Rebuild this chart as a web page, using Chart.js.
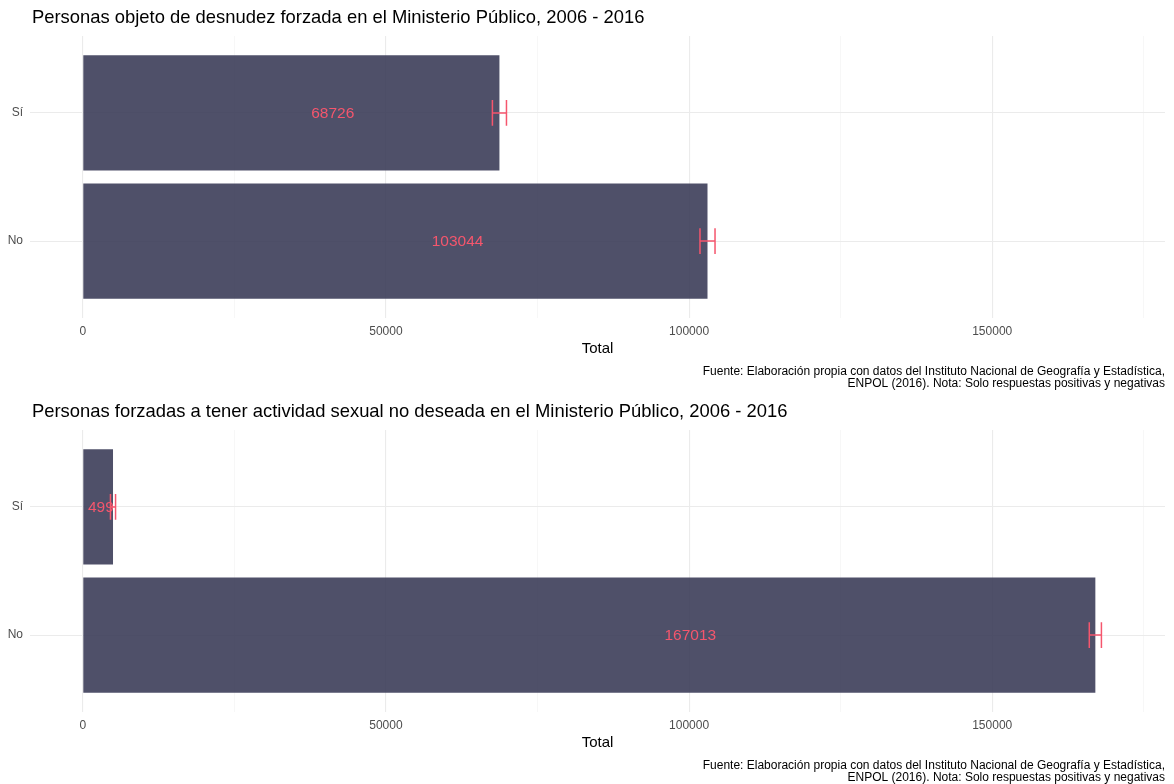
<!DOCTYPE html>
<html>
<head>
<meta charset="utf-8">
<title>Ministerio Público, 2006 - 2016</title>
<script src="https://cdn.jsdelivr.net/npm/chart.js"></script>
<style>
  html, body { margin: 0; padding: 0; background: #fff; overflow: hidden; }
  canvas { display: block; }
</style>
</head>
<body>
<canvas id="chart1" width="1174" height="394"></canvas>
<canvas id="chart2" width="1174" height="394"></canvas>
<script>
// categories (bottom to top) and values
const categories = ['No', 'Sí'];
const desnudezValues = [103044, 68726];
const desnudezErr = [1240, 1160];
const desnudezLabels = ['103044', '68726'];
const actividadValues = [167013, 4991];
const actividadErr = [1000, 420];
const actividadLabels = ['167013', '499'];
const xTicks = [0, 25000, 50000, 75000, 100000, 125000, 150000, 175000];
const xMin = -8700, xMax = 178500;

const titles = [
  'Personas objeto de desnudez forzada en el Ministerio Público, 2006 - 2016',
  'Personas forzadas a tener actividad sexual no deseada en el Ministerio Público, 2006 - 2016'
];
const caption = [
  'Fuente: Elaboración propia con datos del Instituto Nacional de Geografía y Estadística,',
  'ENPOL (2016). Nota: Solo respuestas positivas y negativas'
];

const FONT = '"Liberation Sans", Arial, sans-serif';
const RED = '#f5566d';

// error bars + value labels + title + caption
const extras = {
  id: 'extras',
  afterDatasetsDraw(chart, args, opts) {
    const ctx = chart.ctx;
    const xs = chart.scales.x, ys = chart.scales.y;
    const vals = chart.data.datasets[0].data;
    ctx.save();
    // labels sit at 60% of the bar
    ctx.font = '15.5px ' + FONT;
    ctx.fillStyle = RED;
    ctx.textAlign = 'center';
    ctx.textBaseline = 'middle';
    vals.forEach((d, i) => {
      ctx.fillText(opts.labels[i], xs.getPixelForValue(d.x * 0.6), ys.getPixelForValue(d.y) + 1);
    });
    ctx.strokeStyle = RED;
    ctx.lineWidth = 1.5;
    vals.forEach((d, i) => {
      const lo = xs.getPixelForValue(d.x - opts.err[i]);
      const hi = xs.getPixelForValue(d.x + opts.err[i]);
      const y = ys.getPixelForValue(d.y);
      const top = ys.getPixelForValue(d.y + 0.1);
      const bot = ys.getPixelForValue(d.y - 0.1);
      ctx.beginPath();
      ctx.moveTo(lo, y); ctx.lineTo(hi, y);
      ctx.moveTo(lo, top); ctx.lineTo(lo, bot);
      ctx.moveTo(hi, top); ctx.lineTo(hi, bot);
      ctx.stroke();
    });
    ctx.restore();
  },
  afterDraw(chart, args, opts) {
    const ctx = chart.ctx;
    ctx.save();
    ctx.fillStyle = '#000';
    ctx.textBaseline = 'middle';
    ctx.font = '18.4px ' + FONT;
    ctx.textAlign = 'left';
    ctx.fillText(opts.title, 32, 18);
    ctx.font = '12px ' + FONT;
    ctx.textAlign = 'right';
    ctx.fillText(caption[0], chart.chartArea.right, 371.5);
    ctx.fillText(caption[1], chart.chartArea.right, 383.5);
    ctx.restore();
  }
};

function makeChart(id, values, err, labels, title) {
  const data = values.map((v, i) => ({ x: v, y: i + 1 }));
  return new Chart(document.getElementById(id), {
    type: 'bar',
    data: {
      datasets: [{
        data: data,
        backgroundColor: 'rgba(60,61,89,0.9)',
        barPercentage: 0.9,
        categoryPercentage: 1
      }]
    },
    options: {
      indexAxis: 'y',
      responsive: false,
      animation: false,
      devicePixelRatio: 1,
      layout: { padding: { top: 36, left: 0, right: 9, bottom: 36 } },
      plugins: {
        legend: { display: false },
        tooltip: { enabled: false },
        extras: { err: err, labels: labels, title: title }
      },
      scales: {
        x: {
          type: 'linear',
          min: xMin,
          max: xMax,
          afterBuildTicks: s => { s.ticks = xTicks.map(v => ({ value: v })); },
          afterFit: s => { s.height = 40; },
          border: { display: false },
          grid: {
            drawTicks: false,
            color: c => (c.tick && c.tick.value % 50000 === 0) ? '#ebebeb' : '#f2f2f2',
            lineWidth: c => (c.tick && c.tick.value % 50000 === 0) ? 1.1 : 0.6
          },
          ticks: {
            padding: 6,
            color: '#4d4d4d',
            font: { family: FONT, size: 12 },
            maxRotation: 0,
            autoSkip: false,
            callback: v => (v % 50000 === 0 ? String(v) : '')
          },
          title: {
            display: true,
            text: 'Total',
            color: '#000',
            font: { family: FONT, size: 15 },
            padding: { top: 0, bottom: 0 }
          }
        },
        y: {
          type: 'linear',
          min: 0.4,
          max: 2.6,
          offset: false,
          afterBuildTicks: s => { s.ticks = categories.map((c, i) => ({ value: i + 1 })); },
          afterFit: s => { s.width = 30; },
          border: { display: false },
          grid: { offset: false, drawTicks: false, color: '#ebebeb', lineWidth: 1.1 },
          ticks: {
            padding: 7,
            color: '#4d4d4d',
            font: { family: FONT, size: 12 },
            callback: v => categories[v - 1]
          }
        }
      }
    },
    plugins: [extras]
  });
}

makeChart('chart1', desnudezValues, desnudezErr, desnudezLabels, titles[0]);
makeChart('chart2', actividadValues, actividadErr, actividadLabels, titles[1]);
</script>
</body>
</html>
